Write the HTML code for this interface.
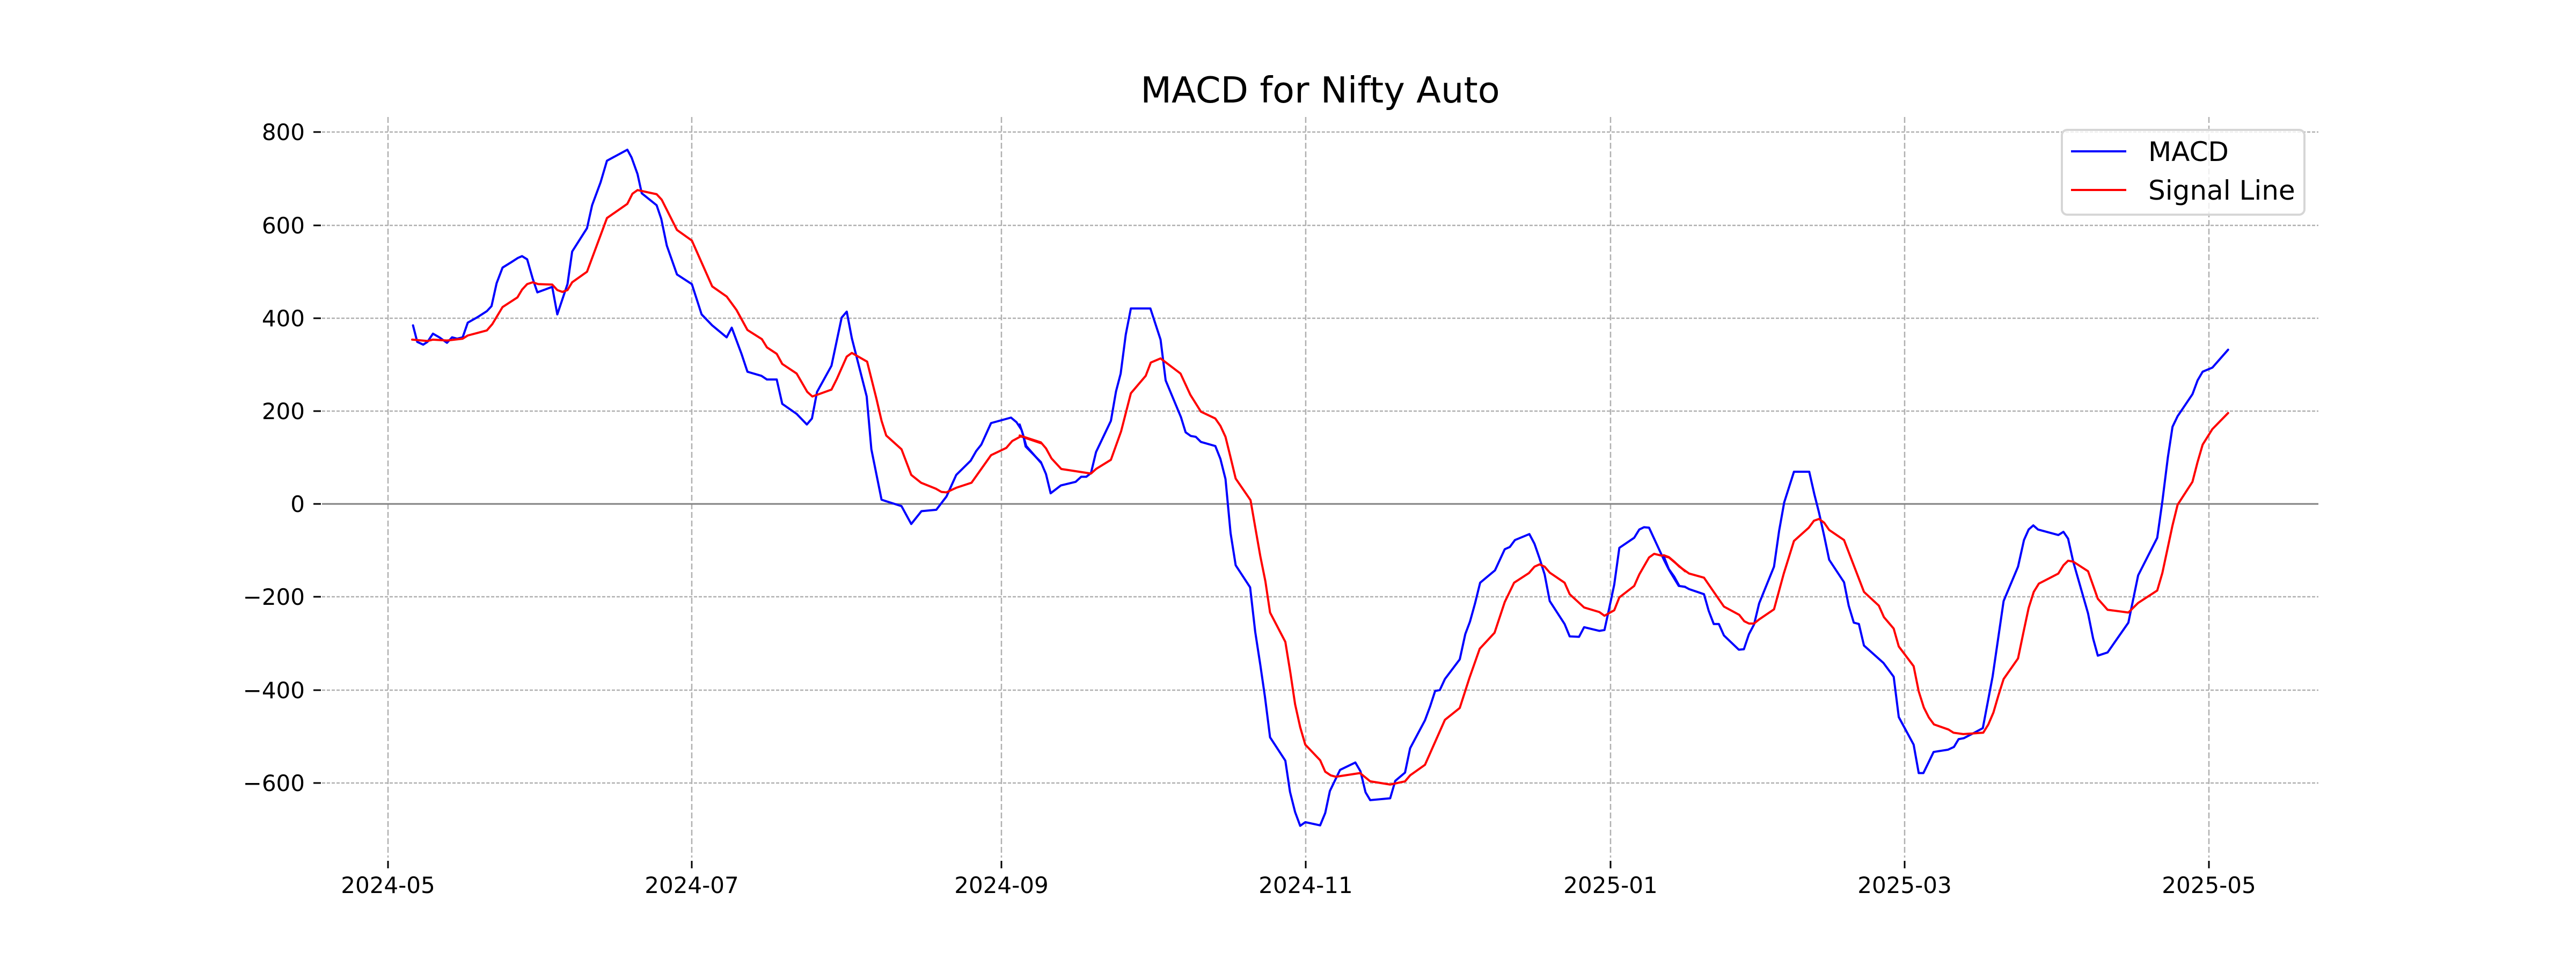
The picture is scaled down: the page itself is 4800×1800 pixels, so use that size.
<!DOCTYPE html>
<html><head><meta charset="utf-8"><style>
html,body{margin:0;padding:0;background:#fff;}
svg{display:block;font-family:"DejaVu Sans","Liberation Sans",sans-serif;}
</style></head><body>
<svg width="4800" height="1800" viewBox="0 0 4800 1800" xmlns="http://www.w3.org/2000/svg">
<rect width="4800" height="1800" fill="#fff"/>
<text x="2460" y="191" font-size="67" text-anchor="middle">MACD for Nifty Auto</text>
<!-- vertical grid -->
<g stroke="#b0b0b0" stroke-width="2.5" stroke-dasharray="11,5">
<line x1="723" y1="218" x2="723" y2="1598"/>
<line x1="1289" y1="218" x2="1289" y2="1598"/>
<line x1="1866" y1="218" x2="1866" y2="1598"/>
<line x1="2433" y1="218" x2="2433" y2="1598"/>
<line x1="3001" y1="218" x2="3001" y2="1598"/>
<line x1="3549" y1="218" x2="3549" y2="1598"/>
<line x1="4116" y1="218" x2="4116" y2="1598"/>
</g>
<!-- horizontal grid -->
<g stroke="#b0b0b0" stroke-width="2.5" stroke-dasharray="6,3">
<line x1="600" y1="246" x2="4320" y2="246"/>
<line x1="600" y1="420" x2="4320" y2="420"/>
<line x1="600" y1="593" x2="4320" y2="593"/>
<line x1="600" y1="766" x2="4320" y2="766"/>
<line x1="600" y1="1112" x2="4320" y2="1112"/>
<line x1="600" y1="1286" x2="4320" y2="1286"/>
<line x1="600" y1="1459" x2="4320" y2="1459"/>
</g>
<line x1="600" y1="939" x2="4320" y2="939" stroke="#808080" stroke-width="3"/>
<!-- ticks -->
<g stroke="#000" stroke-width="3">
<line x1="584" y1="246" x2="598" y2="246"/><line x1="584" y1="420" x2="598" y2="420"/>
<line x1="584" y1="593" x2="598" y2="593"/><line x1="584" y1="766" x2="598" y2="766"/>
<line x1="584" y1="939" x2="598" y2="939"/><line x1="584" y1="1112" x2="598" y2="1112"/>
<line x1="584" y1="1286" x2="598" y2="1286"/><line x1="584" y1="1459" x2="598" y2="1459"/>
<line x1="723" y1="1604" x2="723" y2="1618"/><line x1="1289" y1="1604" x2="1289" y2="1618"/>
<line x1="1866" y1="1604" x2="1866" y2="1618"/><line x1="2433" y1="1604" x2="2433" y2="1618"/>
<line x1="3001" y1="1604" x2="3001" y2="1618"/><line x1="3549" y1="1604" x2="3549" y2="1618"/>
<line x1="4116" y1="1604" x2="4116" y2="1618"/>
</g>
<g font-size="42" text-anchor="end">
<text x="568" y="261">800</text><text x="568" y="435">600</text>
<text x="568" y="608">400</text><text x="568" y="781">200</text>
<text x="568" y="954">0</text><text x="568" y="1127">−200</text>
<text x="568" y="1301">−400</text><text x="568" y="1474">−600</text>
</g>
<g font-size="42" text-anchor="middle">
<text x="723" y="1664">2024-05</text><text x="1289" y="1664">2024-07</text>
<text x="1866" y="1664">2024-09</text><text x="2433" y="1664">2024-11</text>
<text x="3001" y="1664">2025-01</text><text x="3549" y="1664">2025-03</text>
<text x="4116" y="1664">2025-05</text>
</g>
<g fill="none" stroke-width="4" stroke-linejoin="round" stroke-linecap="round">
<g transform="translate(700,220) scale(0.7908,0.8547)">
<polyline vector-effect="non-scaling-stroke" stroke="#0000ff" points="88,452 98,488 112,494 122,488 135,470 150,478 168,490 180,478 192,481 205,478 217,446 240,434 262,421 273,410 285,360 299,326 320,314 335,305 345,301 357,308 370,350 381,380 416,368 428,428 452,362 463,291 498,240 510,190 530,140 545,93 593,69 603,86 617,122 627,164 662,190 673,220 686,278 710,341 745,362 768,428 793,452 827,478 839,457 862,514 876,553 909,562 922,570 945,570 958,623 992,645 1016,668 1028,655 1040,597 1074,540 1098,435 1110,422 1122,480 1157,607 1168,722 1192,832 1205,836 1239,846 1262,885 1286,857 1321,854 1345,825 1368,778 1402,747 1415,726 1427,712 1450,665 1497,653 1510,663 1522,680 1533,715 1568,752"/>
<polyline vector-effect="non-scaling-stroke" stroke="#ff0000" points="86,483 122,486 135,483 168,485 205,481 217,474 262,463 275,449 299,412 334,391 345,374 357,362 370,358 383,362 416,363 428,375 440,379 452,375 463,358 498,335 545,218 593,187 605,165 617,157 662,166 674,178 710,244 745,267 793,367 827,389 850,418 876,462 910,482 922,500 945,514 958,536 992,557 1017,597 1029,607 1074,592 1087,568 1110,520 1122,512 1158,531 1180,612 1192,660 1203,692 1239,722 1262,778 1285,795 1320,808 1333,815 1345,816 1368,806 1404,795 1450,735 1486,719 1500,704 1520,694 1568,709"/>
</g>
<g transform="translate(1900,220) scale(0.7908,0.8547)">
<polyline vector-effect="non-scaling-stroke" stroke="#0000ff" points="0,668 8,690 14,716 50,750 62,776 73,818 97,801 132,793 145,782 157,782 168,774 180,728 215,660 227,596 238,557 250,472 262,415 308,415 332,483 344,572 380,652 391,685 403,693 415,695 427,706 461,715 473,743 485,787 497,905 509,975 543,1023 555,1120 567,1192 578,1262 590,1350 626,1401 637,1469 649,1513 661,1543 673,1535 708,1542 720,1515 731,1467 755,1421 791,1405 803,1424 815,1470 826,1487 873,1483 885,1445 908,1427 920,1374 955,1313 967,1283 979,1249 990,1247 1002,1223 1037,1180 1050,1125 1061,1098 1073,1058 1085,1013 1120,986 1143,940 1155,935 1167,920 1201,907 1213,928 1225,960 1237,995 1249,1053 1284,1103 1296,1130 1318,1131 1330,1110 1366,1118 1378,1116 1390,1065 1401,1017 1413,937 1448,915 1460,897 1471,892 1483,893 1518,963 1530,985 1553,1020 1568,1022"/>
<polyline vector-effect="non-scaling-stroke" stroke="#ff0000" points="0,692 50,707 62,720 75,742 98,765 168,775 180,765 215,745 239,683 262,600 297,562 309,533 332,524 379,557 402,603 427,640 461,655 473,671 485,695 497,740 509,786 544,833 556,897 567,955 579,1010 590,1078 626,1142 638,1210 649,1278 661,1328 673,1366 708,1400 720,1425 733,1433 745,1436 802,1428 826,1446 873,1453 908,1446 920,1433 955,1410 1002,1312 1037,1286 1060,1220 1084,1157 1119,1122 1143,1055 1165,1013 1200,992 1213,978 1225,973 1237,978 1249,991 1284,1013 1296,1038 1330,1067 1366,1077 1378,1085 1401,1073 1413,1045 1448,1020 1460,995 1483,958 1495,950 1530,958 1553,976 1568,988"/>
</g>
<g transform="translate(3100,220) scale(0.7908,0.8547)">
<polyline vector-effect="non-scaling-stroke" stroke="#0000ff" points="0,955 12,983 25,1000 37,1020 50,1022 60,1027 95,1038 106,1074 118,1103 130,1103 142,1128 177,1159 189,1158 201,1125 213,1104 225,1058 260,978 272,900 284,838 307,771 343,771 355,820 366,860 378,910 390,963 425,1012 436,1063 448,1100 460,1103 472,1150 518,1188 542,1218 554,1306 589,1366 601,1428 612,1428 624,1405 636,1382 670,1377 684,1371 695,1354 707,1352 730,1341 752,1330 775,1218 801,1053 835,978 849,920 860,897 871,888 882,897 930,909 942,902 953,917 965,967 1000,1080 1012,1135 1023,1172 1046,1165 1095,1100 1118,997 1163,915 1175,836 1188,740 1199,673 1211,650 1246,602 1258,572 1270,553 1293,544 1330,505"/>
<polyline vector-effect="non-scaling-stroke" stroke="#ff0000" points="0,953 12,957 25,967 37,978 60,993 95,1002 118,1033 142,1065 178,1083 190,1097 201,1102 213,1102 225,1093 260,1071 283,993 307,922 342,893 354,878 366,874 378,882 390,898 425,920 472,1033 507,1063 519,1088 542,1113 554,1152 589,1195 601,1250 613,1285 625,1307 637,1322 671,1333 683,1340 706,1343 753,1340 765,1322 777,1296 789,1258 801,1223 835,1178 848,1120 860,1068 872,1033 884,1015 930,993 942,975 953,965 965,967 1000,988 1023,1048 1046,1072 1095,1078 1118,1057 1163,1030 1175,992 1187,940 1199,888 1211,843 1246,793 1258,750 1270,712 1293,678 1330,643"/>
</g>
</g>
<!-- legend -->
<rect x="3842" y="242" width="452" height="158" rx="10" fill="#fff" fill-opacity="0.8" stroke="#d6d6d6" stroke-width="4"/>
<line x1="3859" y1="282" x2="3962" y2="282" stroke="#0000ff" stroke-width="4"/>
<line x1="3859" y1="354" x2="3962" y2="354" stroke="#ff0000" stroke-width="4"/>
<text x="4003" y="300" font-size="50">MACD</text>
<text x="4003" y="372" font-size="50">Signal Line</text>
</svg>
</body></html>
